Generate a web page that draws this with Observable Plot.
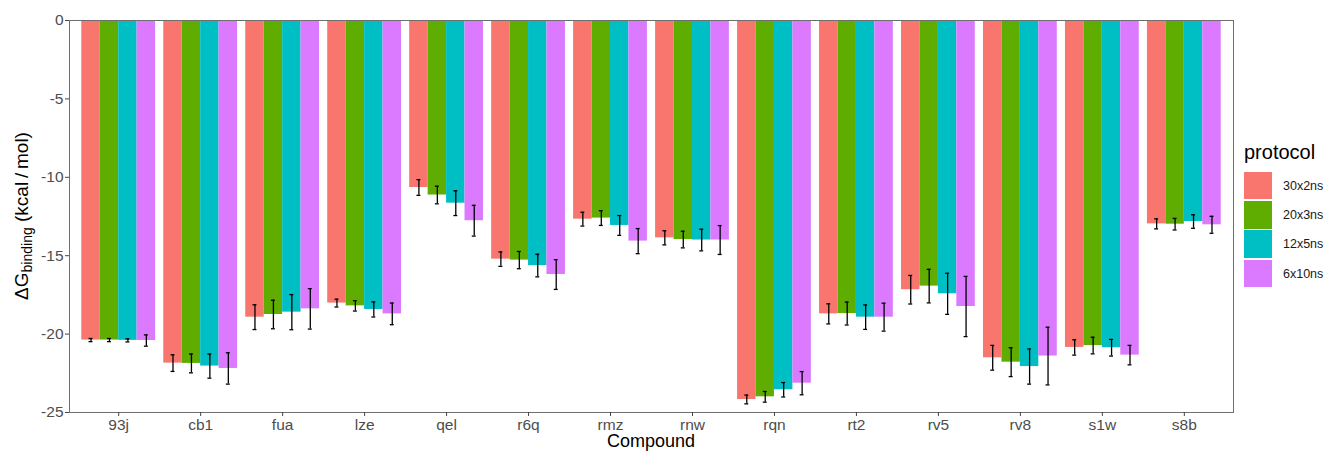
<!DOCTYPE html>
<html>
<head>
<meta charset="utf-8">
<script src="https://cdn.jsdelivr.net/npm/d3@7"></script>
<script src="https://cdn.jsdelivr.net/npm/@observablehq/plot@0.6"></script>
<style>
  html, body { margin: 0; padding: 0; background: white; overflow: hidden; }
  #wrap { position: relative; width: 1330px; height: 452px; font-family: "Liberation Sans", Arial, Helvetica, sans-serif; }
  #chart { position: absolute; left: 0; top: 0; }
  #legend { position: absolute; left: 1244px; top: 140px; color: black; }
  #legend .title { font-size: 20px; height: 31px; line-height: 24px; }
  #legend .row { display: flex; align-items: center; height: 29.3px; }
  #legend .key { width: 28px; height: 27.5px; margin-right: 11px; }
  #legend .lab { font-size: 12.5px; color: #1a1a1a; }
</style>
</head>
<body>
<div id="wrap">
  <div id="chart"></div>
  <div id="legend"></div>
</div>
<script>
const compounds = ["93j","cb1","fua","lze","qel","r6q","rmz","rnw","rqn","rt2","rv5","rv8","s1w","s8b"];
const protocols = ["30x2ns","20x3ns","12x5ns","6x10ns"];
const protocolColors = ["#F8766D","#5EAD00","#00BFC4","#DB79FF"];
const yTicks = [0, -5, -10, -15, -20, -25];

const mean30x2 = [-20.38, -21.85, -18.92, -18.02, -10.65, -15.22, -12.67, -13.86, -24.17, -18.71, -17.17, -21.51, -20.85, -12.97];
const err30x2  = [0.10, 0.53, 0.79, 0.25, 0.50, 0.46, 0.44, 0.45, 0.28, 0.64, 0.91, 0.79, 0.49, 0.32];
const mean20x3 = [-20.38, -21.87, -18.75, -18.20, -11.13, -15.28, -12.60, -13.97, -24.00, -18.69, -16.94, -21.79, -20.73, -12.99];
const err20x3  = [0.10, 0.60, 0.91, 0.33, 0.56, 0.55, 0.47, 0.53, 0.34, 0.73, 1.07, 0.92, 0.53, 0.37];
const mean12x5 = [-20.40, -22.04, -18.60, -18.43, -11.65, -15.63, -13.07, -14.00, -23.55, -18.92, -17.43, -22.07, -20.87, -12.82];
const err12x5  = [0.10, 0.77, 1.12, 0.48, 0.79, 0.72, 0.63, 0.69, 0.46, 0.78, 1.31, 1.12, 0.53, 0.43];
const mean6x10 = [-20.41, -22.19, -18.39, -18.71, -12.77, -16.20, -14.07, -14.00, -23.13, -18.92, -18.24, -21.40, -21.34, -13.03];
const err6x10  = [0.36, 1.00, 1.29, 0.69, 0.98, 0.95, 0.80, 0.92, 0.74, 0.89, 1.92, 1.84, 0.62, 0.54];

const means = [mean30x2, mean20x3, mean12x5, mean6x10];
const errs = [err30x2, err20x3, err12x5, err6x10];

// dodge like ggplot: group width 0.9, four bars
const groupWidth = 0.9;
const barW = groupWidth / protocols.length;
const capHalf = 0.024;

const rows = [];
protocols.forEach((p, j) => {
  compounds.forEach((c, i) => {
    const center = i + (j - (protocols.length - 1) / 2) * barW;
    rows.push({compound: c, protocol: p, center, x1: center - barW / 2, x2: center + barW / 2,
               mean: means[j][i], err: errs[j][i]});
  });
});

const font = '"Liberation Sans", Arial, Helvetica, sans-serif';
const W = 1236, H = 452, mL = 69, mR = 3, mT = 20, mB = 40;

const plot = Plot.plot({
  width: W, height: H,
  marginLeft: mL, marginRight: mR, marginTop: mT, marginBottom: mB,
  style: {fontFamily: font, fontSize: "15px", color: "#4d4d4d", background: "white", overflow: "visible"},
  x: {type: "linear", domain: [-0.6, compounds.length - 1 + 0.6], axis: null},
  y: {domain: [-25, 0], axis: null},
  color: {domain: protocols, range: protocolColors},
  marks: [
    Plot.rectY(rows, {x1: "x1", x2: "x2", y1: d => 0, y2: "mean", fill: "protocol"}),
    Plot.ruleX(rows, {x: "center", y1: d => d.mean - d.err, y2: d => d.mean + d.err, stroke: "black", strokeWidth: 1.3}),
    Plot.ruleY(rows, {x1: d => d.center - capHalf, x2: d => d.center + capHalf, y: d => d.mean - d.err, stroke: "black", strokeWidth: 1.3}),
    Plot.ruleY(rows, {x1: d => d.center - capHalf, x2: d => d.center + capHalf, y: d => d.mean + d.err, stroke: "black", strokeWidth: 1.3}),
    Plot.frame({stroke: "#6e6e6e", strokeWidth: 1}),
    Plot.axisX({ticks: d3.range(compounds.length), tickFormat: i => compounds[i], tickSize: 4, tickPadding: 2, label: null, stroke: "#444", fontSize: 15.5}),
    Plot.axisY({ticks: yTicks, tickFormat: d => String(d), tickSize: 4, tickPadding: 2, label: null, stroke: "#444", fontSize: 15.5})
  ]
});

document.getElementById("chart").appendChild(plot);

const svg = d3.select(plot);
// y axis title with subscript
const yt = svg.append("text")
  .attr("transform", `translate(28,${(mT + H - mB) / 2}) rotate(-90)`)
  .attr("text-anchor", "middle")
  .attr("fill", "black")
  .style("font-family", font)
  .style("font-size", "19px");
yt.append("tspan").text("ΔG");
yt.append("tspan").attr("dy", 4).style("font-size", "14px").text("binding");
yt.append("tspan").attr("dy", -4).text(" (kcal\u2009/\u2009mol)");

// x axis title
svg.append("text")
  .attr("x", (mL + W - mR) / 2)
  .attr("y", 446.5)
  .attr("text-anchor", "middle")
  .attr("fill", "black")
  .style("font-family", font)
  .style("font-size", "18px")
  .text("Compound");

// legend
const legend = d3.select("#legend");
legend.append("div").attr("class", "title").text("protocol");
protocols.forEach((p, j) => {
  const r = legend.append("div").attr("class", "row");
  r.append("div").attr("class", "key").style("background", protocolColors[j]);
  r.append("div").attr("class", "lab").text(p);
});
</script>
</body>
</html>
